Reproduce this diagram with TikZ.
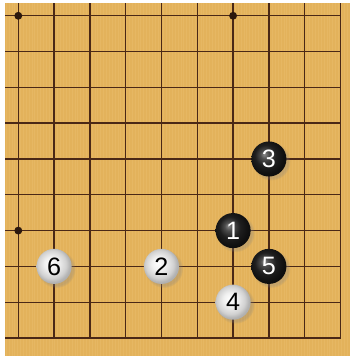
\documentclass[tikz,border=0pt]{standalone}
\usepackage{fontspec}
\setsansfont{Liberation Sans}
\usepackage{xcolor}
\usepackage{tikz}
\usetikzlibrary{shadows}
\definecolor{boardWood}{HTML}{E3B25B}
\definecolor{boardGrain}{HTML}{EEC477}
\definecolor{boardLine}{HTML}{4A2816}
\definecolor{boardMargin}{HTML}{FFFFFF}
\pgfdeclareradialshading{blackStone}{\pgfpoint{-7bp}{7bp}}{%
  color(0bp)=(black!45!white);color(6bp)=(black!70!white);
  color(15bp)=(black!88!white);color(25bp)=(black!94!white);color(50bp)=(black)}
\pgfdeclareradialshading{whiteStone}{\pgfpoint{-5bp}{5bp}}{%
  color(0bp)=(white);color(10bp)=(white!94!black);
  color(20bp)=(white!82!black);color(25bp)=(white!70!black);color(50bp)=(white!55!black)}
\tikzset{
  gridline/.style={draw=boardLine,line width=1.1pt},
  edgeline/.style={draw=boardLine,line width=1.5pt},
  woodgrain/.style={draw=boardGrain,line width=0.5pt,opacity=0.3},
  hoshi/.style={circle,fill=boardLine!60!black,inner sep=0pt,minimum size=2.2mm},
  stone/.style={circle,inner sep=0pt,minimum size=9.8mm,
    font=\sffamily\fontsize{20}{20}\selectfont,
    circular drop shadow={shadow xshift=0.6mm,shadow yshift=-0.6mm,opacity=0.3}},
  blackstone/.style={stone,shading=blackStone,text=white},
  whitestone/.style={stone,shading=whiteStone,text=black}
}

\begin{document}
\begin{tikzpicture}[x=1cm,y=1cm]
    \fill[boardMargin] (-0.511,-0.503) rectangle (9.265,9.441);
    \useasboundingbox (-0.511,-0.503) rectangle (9.265,9.441);
    \fill[boardWood] (-0.371,-0.503) rectangle (9.265,9.357);
    \foreach \k in {0,...,120}
      \draw[woodgrain] (-0.34+\k*0.08,-0.503) -- (-0.34+\k*0.08,9.357);
    % grid of the lower right quarter
    \foreach \i in {0,...,8}
      \draw[gridline] (\i,0) -- (\i,9.357);
    \foreach \j in {1,...,9}
      \draw[gridline] (-0.371,\j) -- (9,\j);
    \draw[edgeline] (-0.371,0) -- (9,0) -- (9,9.357);
    \foreach \x/\y in {0/9,6/9,0/3}
      \node[hoshi] at (\x,\y) {};
    % stones
    \node[blackstone] (s1) at (6,3) {1};
    \node[whitestone] (s2) at (4,2) {2};
    \node[blackstone] (s3) at (7,5) {3};
    \node[whitestone] (s4) at (6,1) {4};
    \node[blackstone] (s5) at (7,2) {5};
    \node[whitestone] (s6) at (1,2) {6};
  \end{tikzpicture}
\end{document}
